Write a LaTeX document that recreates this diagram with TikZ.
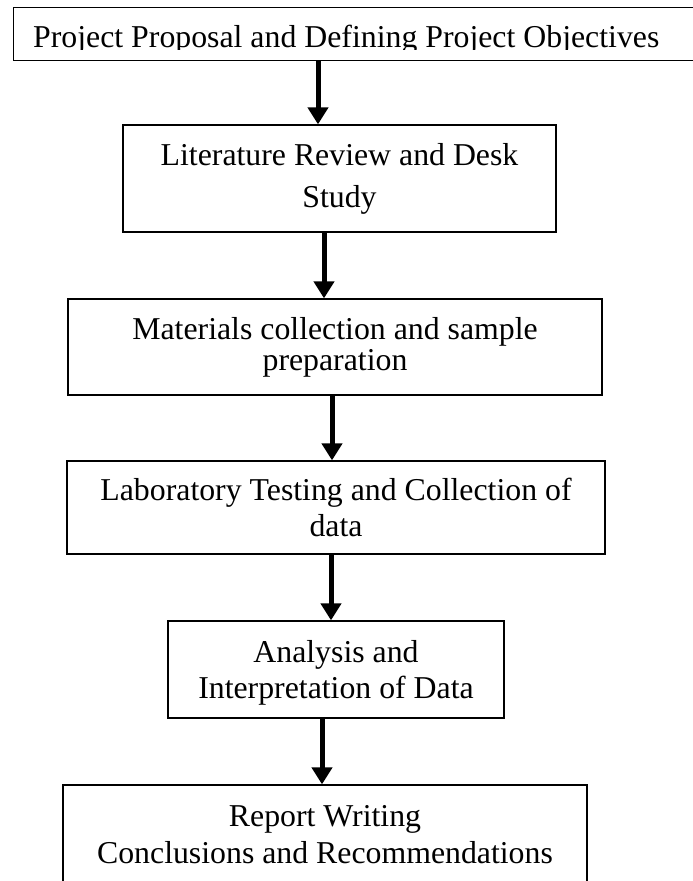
\documentclass[tikz,border=0pt]{standalone}
\usepackage{fontspec}
\setmainfont{Liberation Serif}
\usetikzlibrary{arrows.meta}

\tikzset{
  stagebox/.style={draw=black, line width=1.3pt, inner sep=0pt, align=center, fill=none},
  flow/.style={line width=5pt, -{Triangle[width=20pt,length=17pt]}},
}
\newcommand{\stagefont}[1]{\fontsize{31.8pt}{#1}\selectfont}

\begin{document}
\begin{tikzpicture}[x=1pt, y=-1pt]
  \clip (0,0) rectangle (693,881);
  \fill[white] (0,0) rectangle (693,881);

  % first stage: runs past the right edge of the page
  \node[stagebox, anchor=north west, minimum width=720pt, minimum height=53pt]
    (proposal) at (13,7) {};
  \begin{scope}
    \clip (13,7) rectangle (693,49);
    \node[anchor=base west, inner sep=0pt, font=\stagefont{36pt}]
      (proposaltext) at (33,47) {Project Proposal and Defining Project Objectives};
  \end{scope}

  \node[stagebox, minimum width=433pt, minimum height=107pt, font=\stagefont{42pt}]
    (literature) at (339.5,178.5) {Literature Review and Desk\\Study};

  \node[stagebox, minimum width=534pt, minimum height=96pt, font=\stagefont{31pt}]
    (materials) at (335,347) {Materials collection and sample\\preparation};

  \node[stagebox, minimum width=538pt, minimum height=93pt, font=\stagefont{36pt}]
    (lab) at (336,507.5) {Laboratory Testing and Collection of\\data};

  \node[stagebox, minimum width=336pt, minimum height=97pt, text depth=0pt, font=\stagefont{36pt}]
    (analysis) at (336,669.5) {Analysis and\\Interpretation of Data};

  % last stage: runs past the bottom edge of the page
  \node[stagebox, minimum width=524pt, minimum height=100pt, font=\stagefont{37pt}]
    (report) at (325,835) {Report Writing\\Conclusions and Recommendations};

  % arrow landing points on each box
  \coordinate (in1) at ([xshift=-21.5pt]literature.north);
  \coordinate (in2) at ([xshift=-11pt]materials.north);
  \coordinate (in3) at ([xshift=-4pt]lab.north);
  \coordinate (in4) at ([xshift=-5pt]analysis.north);
  \coordinate (in5) at ([xshift=-3pt]report.north);

  \draw[flow] (proposal.south -| in1) -- (in1);
  \draw[flow] (literature.south -| in2) -- (in2);
  \draw[flow] (materials.south -| in3) -- (in3);
  \draw[flow] (lab.south -| in4) -- (in4);
  \draw[flow] (analysis.south -| in5) -- (in5);
\end{tikzpicture}
\end{document}
